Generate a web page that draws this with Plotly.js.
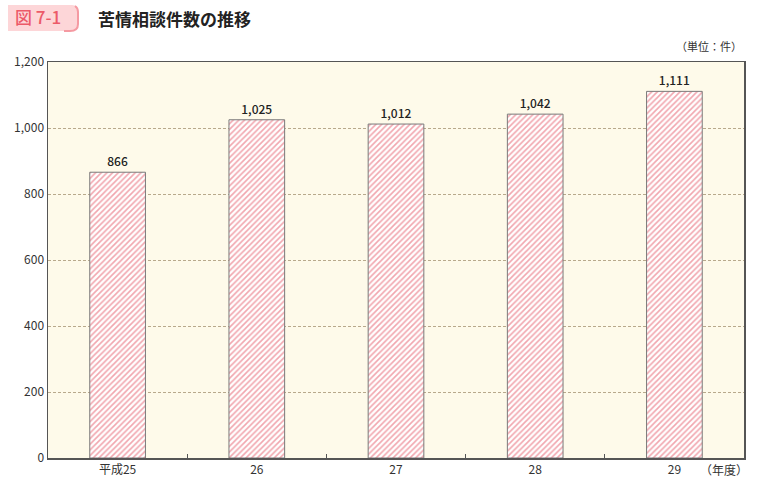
<!DOCTYPE html>
<html><head><meta charset="utf-8">
<script src="https://cdn.plot.ly/plotly-3.0.1.min.js"></script>
<style>body{margin:0;background:#fff}#c{width:760px;height:484px}</style>
</head><body><div id="c"></div>
<script>
const categories = ['平成25', '26', '27', '28', '29'];
const values = [866, 1025, 1012, 1042, 1111];
const valueLabels = ['866', '1,025', '1,012', '1,042', '1,111'];
const yTicks = [0, 200, 400, 600, 800, 1000, 1200];
const yTickLabels = ['0', '200', '400', '600', '800', '1,000', '1,200'];

const font = "'Noto Sans CJK JP', 'Noto Sans', sans-serif";
const trace = {
  type: 'bar', x: categories, y: values,
  text: valueLabels, textposition: 'outside', cliponaxis: false,
  textfont: {family: font, size: 12, color: '#222', weight: 500},
  width: 0.4,
  marker: {color: '#ffffff', line: {color: '#7a7a7a', width: 1},
    pattern: {shape: '/', fgcolor: '#e44f60', bgcolor: '#ffffff', size: 4, solidity: 0.4, fillmode: 'overlay'}},
  hoverinfo: 'none'
};
const layout = {
  width: 760, height: 484,
  margin: {l: 48, r: 16, t: 62, b: 26},
  paper_bgcolor: '#ffffff', plot_bgcolor: '#fefaea',
  font: {family: font, size: 12, color: '#333'},
  showlegend: false, bargap: 0.6,
  xaxis: {type: 'category', showline: true, linecolor: '#555', linewidth: 1.5, mirror: true,
    ticks: 'inside', tickson: 'boundaries', ticklen: 4, tickcolor: '#555',
    showgrid: false, tickfont: {size: 12, color: '#333'}},
  yaxis: {range: [0, 1200], tickvals: yTicks, ticktext: yTickLabels, showline: true, linecolor: '#555', linewidth: 1.5, mirror: true,
    ticks: '', gridcolor: '#b8a98c', griddash: '3px,2px', gridwidth: 1, zeroline: false,
    tickfont: {size: 12, color: '#333'}},
  annotations: [
    {text: '苦情相談件数の推移', xref: 'paper', yref: 'paper', x: 48/696, y: 1, yshift: 44, xanchor: 'left', yanchor: 'middle', showarrow: false,
      font: {family: font, size: 17, color: '#222', weight: 'bold'}},
    {text: '（単位：件）', xref: 'paper', yref: 'paper', x: 1, y: 1, yshift: 16, xanchor: 'right', yanchor: 'middle', showarrow: false,
      font: {family: font, size: 11, color: '#333'}},
    {text: '（年度）', xref: 'paper', yref: 'paper', x: 1, y: 0, yshift: -11, xshift: 6, xanchor: 'right', yanchor: 'middle', showarrow: false,
      font: {family: font, size: 12, color: '#333'}}
  ]
};
Plotly.newPlot('c', [trace], layout, {displayModeBar: false, staticPlot: true}).then(function(){
  const svg = document.querySelector('#c .main-svg');
  const ns = 'http://www.w3.org/2000/svg';
  const g = document.createElementNS(ns, 'g');
  const r = document.createElementNS(ns, 'path');
  r.setAttribute('d', 'M 8 5 L 72 5 Q 78 5 78 11 L 78 24 Q 78 31 70 31 L 8 31 Z');
  r.setAttribute('fill', '#fdd6d8');
  const e = document.createElementNS(ns, 'path');
  e.setAttribute('d', 'M 75 6 Q 78 8 78 12 L 78 24 Q 78 31 70 31 L 64 31');
  e.setAttribute('fill', 'none'); e.setAttribute('stroke', '#f59aa2'); e.setAttribute('stroke-width', '2');
  const t = document.createElementNS(ns, 'text');
  t.setAttribute('x', '15'); t.setAttribute('y', '24');
  t.setAttribute('font-family', "'Noto Sans CJK JP', sans-serif");
  t.setAttribute('font-size', '17'); t.setAttribute('font-weight', '500'); t.setAttribute('fill', '#ec5a68');
  t.textContent = '図 7-1';
  g.appendChild(r); g.appendChild(e); g.appendChild(t);
  svg.appendChild(g);
});
</script></body></html>
